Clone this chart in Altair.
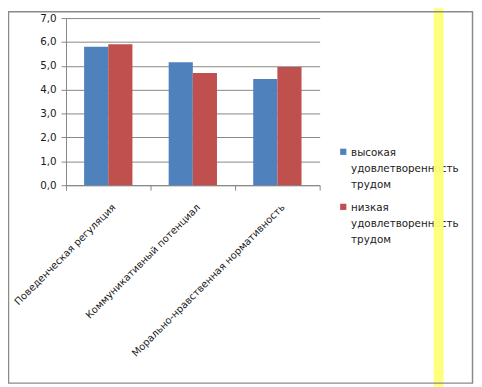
import altair as alt
import pandas as pd

categories = ["Поведенческая регуляция", "Коммуникативный потенциал", "Морально-нравственная нормативность"]
series = ["высокая удовлетворенность трудом", "низкая удовлетворенность трудом"]
high_values = [5.8, 5.15, 4.45]
low_values = [5.9, 4.7, 4.95]
legend_lines = [["высокая", "удовлетворенность", "трудом"], ["низкая", "удовлетворенность", "трудом"]]
colors = ["#4F81BD", "#C0504D"]
y_ticks = [0, 1, 2, 3, 4, 5, 6, 7]

rows = []
for c, h, l in zip(categories, high_values, low_values):
    rows.append({"category": c, "series": series[0], "value": h})
    rows.append({"category": c, "series": series[1], "value": l})
df = pd.DataFrame(rows)

FONT = "DejaVu Sans"
GRAY = "#868686"
TEXT = "#1a1a1a"

bars = alt.Chart(df).mark_bar().encode(
    x=alt.X("category:N", sort=categories, title=None,
            scale=alt.Scale(paddingInner=0, paddingOuter=0),
            axis=alt.Axis(tickBand="extent", labelAngle=-45, labelAlign="right",
                          labelBaseline="top", labelPadding=12, labelOffset=2, tickSize=5,
                          domainColor=GRAY, tickColor=GRAY, labelColor=TEXT,
                          labelFont=FONT, labelFontSize=10.1, labelLimit=400)),
    xOffset=alt.XOffset("series:N", sort=series,
                        scale=alt.Scale(paddingInner=0, paddingOuter=0.75)),
    y=alt.Y("value:Q", title=None,
            scale=alt.Scale(domain=[0, 7], nice=False),
            axis=alt.Axis(values=y_ticks, grid=True, gridColor=GRAY, domainColor=GRAY,
                          tickColor=GRAY, tickSize=5, labelPadding=5,
                          labelExpr="replace(format(datum.value, '.1f'), '.', ',')",
                          labelColor=TEXT, labelFont=FONT, labelFontSize=10.5)),
    color=alt.Color("series:N", sort=series, scale=alt.Scale(domain=series, range=colors), legend=None),
)

# decorations: yellow band and outer border
band = alt.Chart(pd.DataFrame({"a": [0]})).mark_rect(color="#FFFF77", opacity=0.95).encode(
    x=alt.value(374), x2=alt.value(384), y=alt.value(-10), y2=alt.value(375))
border = alt.Chart(pd.DataFrame({"a": [0]})).mark_rect(fill=None, stroke="#8a8a8a", strokeWidth=1.5).encode(
    x=alt.value(-58.5), x2=alt.value(413.5), y=alt.value(-6.5), y2=alt.value(371.3))

legend_layers = []
leg_y = [136, 192]
for i in range(2):
    sq = alt.Chart(pd.DataFrame({"s": [series[i]]})).mark_square(size=40, opacity=1).encode(
        x=alt.value(282), y=alt.value(leg_y[i]), color=alt.value(colors[i]))
    tx = alt.Chart(pd.DataFrame({"s": [series[i]]})).mark_text(
        align="left", baseline="middle", font=FONT, fontSize=10.5, lineHeight=16.5, color=TEXT).encode(
        x=alt.value(290), y=alt.value(leg_y[i] + 1), text=alt.value(legend_lines[i]))
    legend_layers += [sq, tx]

chart = alt.layer(bars, *legend_layers, band, border).properties(
    width=258, height=170,
    autosize=alt.AutoSizeParams(type="none"),
    padding={"left": 59, "top": 7, "right": 157, "bottom": 202},
).configure_view(stroke=None)

chart.save("out.html", embed_options={"renderer": "svg", "actions": False})
